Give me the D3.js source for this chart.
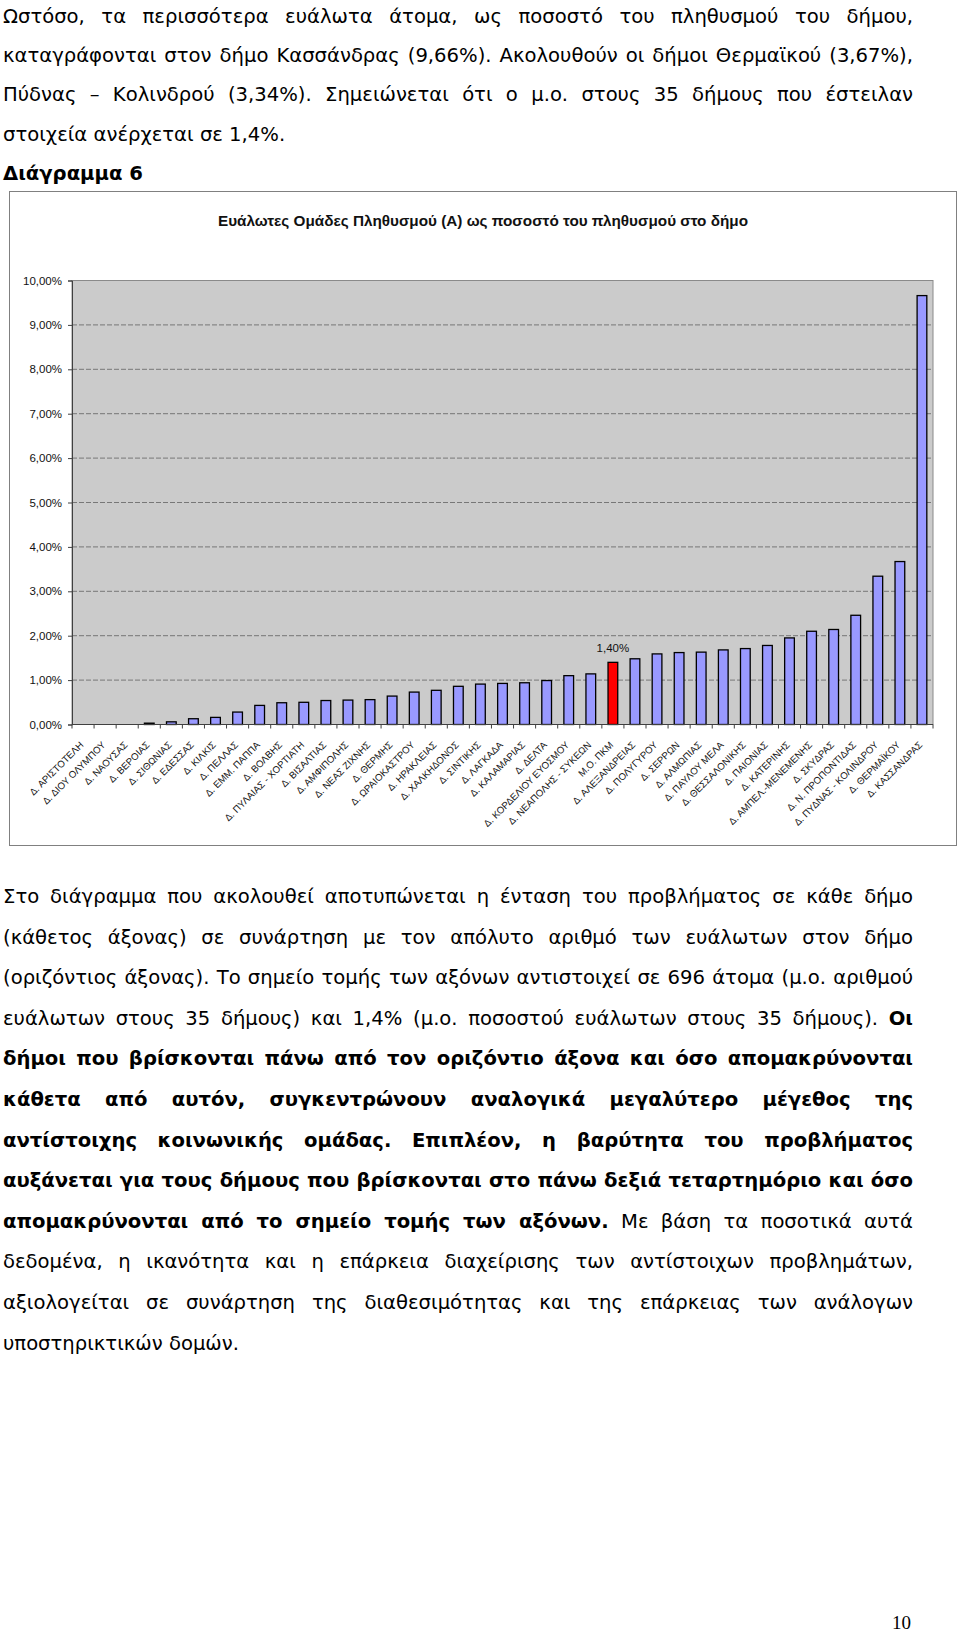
<!DOCTYPE html>
<html>
<head>
<meta charset="utf-8">
<script src="https://cdn.jsdelivr.net/npm/d3@7"></script>
<style>
  html, body { margin: 0; padding: 0; }
  body { width: 960px; height: 1636px; position: relative; background: #fff; overflow: hidden; }
  #chart { position: absolute; left: 0; top: 0; }
  .para { position: absolute; left: 3px; width: 910px; font-family: "DejaVu Sans", sans-serif; font-size: 19.6px; color: #000; }
  #p1 { line-height: 39.2px; }
  #p1 .ln { height: 39.2px; }
  #p2 { line-height: 40.6px; }
  #p2 .ln { height: 40.6px; }
  .ln { white-space: nowrap; text-align: left; }
  .ln.j { text-align: justify; text-align-last: justify; }
  .pg { position: absolute; left: 892px; top: 1612px; font-family: "Liberation Serif", serif; font-size: 19px; }
</style>
</head>
<body>
<svg id="chart" width="960" height="1636"></svg>

<div class="para" id="p1" style="top:-3px">
  <div class="ln" data-j="1"><span>Ωστόσο, τα περισσότερα ευάλωτα άτομα, ως ποσοστό του πληθυσμού του δήμου,</span></div>
  <div class="ln" data-j="1"><span>καταγράφονται στον δήμο Κασσάνδρας (9,66%). Ακολουθούν οι δήμοι Θερμαϊκού (3,67%),</span></div>
  <div class="ln" data-j="1"><span>Πύδνας – Κολινδρού (3,34%). Σημειώνεται ότι ο μ.ο. στους 35 δήμους που έστειλαν</span></div>
  <div class="ln"><span>στοιχεία ανέρχεται σε 1,4%.</span></div>
  <div class="ln"><span><b>Διάγραμμα 6</b></span></div>
</div>

<div class="para" id="p2" style="top:877px">
  <div class="ln" data-j="1"><span>Στο διάγραμμα που ακολουθεί αποτυπώνεται η ένταση του προβλήματος σε κάθε δήμο</span></div>
  <div class="ln" data-j="1"><span>(κάθετος άξονας) σε συνάρτηση με τον απόλυτο αριθμό των ευάλωτων στον δήμο</span></div>
  <div class="ln" data-j="1"><span>(οριζόντιος άξονας). Το σημείο τομής των αξόνων αντιστοιχεί σε 696 άτομα (μ.ο. αριθμού</span></div>
  <div class="ln" data-j="1"><span>ευάλωτων στους 35 δήμους) και 1,4% (μ.ο. ποσοστού ευάλωτων στους 35 δήμους). <b>Οι</b></span></div>
  <div class="ln" data-j="1"><span><b>δήμοι που βρίσκονται πάνω από τον οριζόντιο άξονα και όσο απομακρύνονται</b></span></div>
  <div class="ln" data-j="1"><span><b>κάθετα από αυτόν, συγκεντρώνουν αναλογικά μεγαλύτερο μέγεθος της</b></span></div>
  <div class="ln" data-j="1"><span><b>αντίστοιχης κοινωνικής ομάδας. Επιπλέον, η βαρύτητα του προβλήματος</b></span></div>
  <div class="ln" data-j="1"><span><b>αυξάνεται για τους δήμους που βρίσκονται στο πάνω δεξιά τεταρτημόριο και όσο</b></span></div>
  <div class="ln" data-j="1"><span><b>απομακρύνονται από το σημείο τομής των αξόνων.</b> Με βάση τα ποσοτικά αυτά</span></div>
  <div class="ln" data-j="1"><span>δεδομένα, η ικανότητα και η επάρκεια διαχείρισης των αντίστοιχων προβλημάτων,</span></div>
  <div class="ln" data-j="1"><span>αξιολογείται σε συνάρτηση της διαθεσιμότητας και της επάρκειας των ανάλογων</span></div>
  <div class="ln"><span>υποστηρικτικών δομών.</span></div>
</div>

<div class="pg">10</div>

<script>
// ---------------- DATA ----------------
const categories = [
  "Δ. ΑΡΙΣΤΟΤΕΛΗ", "Δ. ΔΙΟΥ ΟΛΥΜΠΟΥ", "Δ. ΝΑΟΥΣΑΣ", "Δ. ΒΕΡΟΙΑΣ", "Δ. ΣΙΘΩΝΙΑΣ",
  "Δ. ΕΔΕΣΣΑΣ", "Δ. ΚΙΛΚΙΣ", "Δ. ΠΕΛΛΑΣ", "Δ. ΕΜΜ. ΠΑΠΠΑ", "Δ. ΒΟΛΒΗΣ",
  "Δ. ΠΥΛΑΙΑΣ - ΧΟΡΤΙΑΤΗ", "Δ. ΒΙΣΑΛΤΙΑΣ", "Δ. ΑΜΦΙΠΟΛΗΣ", "Δ. ΝΕΑΣ ΖΙΧΝΗΣ", "Δ. ΘΕΡΜΗΣ",
  "Δ. ΩΡΑΙΟΚΑΣΤΡΟΥ", "Δ. ΗΡΑΚΛΕΙΑΣ", "Δ. ΧΑΛΚΗΔΟΝΟΣ", "Δ. ΣΙΝΤΙΚΗΣ", "Δ. ΛΑΓΚΑΔΑ",
  "Δ. ΚΑΛΑΜΑΡΙΑΣ", "Δ. ΔΕΛΤΑ", "Δ. ΚΟΡΔΕΛΙΟΥ ΕΥΟΣΜΟΥ", "Δ. ΝΕΑΠΟΛΗΣ - ΣΥΚΕΩΝ", "Μ.Ο. ΠΚΜ",
  "Δ. ΑΛΕΞΑΝΔΡΕΙΑΣ", "Δ. ΠΟΛΥΓΥΡΟΥ", "Δ. ΣΕΡΡΩΝ", "Δ. ΑΛΜΩΠΙΑΣ", "Δ. ΠΑΥΛΟΥ ΜΕΛΑ",
  "Δ. ΘΕΣΣΑΛΟΝΙΚΗΣ", "Δ. ΠΑΙΟΝΙΑΣ", "Δ. ΚΑΤΕΡΙΝΗΣ", "Δ. ΑΜΠΕΛ.-ΜΕΝΕΜΕΝΗΣ", "Δ. ΣΚΥΔΡΑΣ",
  "Δ. Ν. ΠΡΟΠΟΝΤΙΔΑΣ", "Δ. ΠΥΔΝΑΣ - ΚΟΛΙΝΔΡΟΥ", "Δ. ΘΕΡΜΑΪΚΟΥ", "Δ. ΚΑΣΣΑΝΔΡΑΣ"
];
// percent of municipal population
const values = [
  0, 0, 0, 0.03, 0.06,
  0.13, 0.16, 0.28, 0.43, 0.49,
  0.50, 0.54, 0.55, 0.56, 0.64,
  0.73, 0.77, 0.86, 0.91, 0.925,
  0.94, 0.99, 1.10, 1.14, 1.40,
  1.48, 1.59, 1.62, 1.63, 1.68,
  1.71, 1.78, 1.95, 2.10, 2.14,
  2.46, 3.34, 3.67, 9.66
];
const highlightCategory = "Μ.Ο. ΠΚΜ";
const yTickValues = [0, 1, 2, 3, 4, 5, 6, 7, 8, 9, 10];
const yTickLabels = ["0,00%", "1,00%", "2,00%", "3,00%", "4,00%", "5,00%", "6,00%", "7,00%", "8,00%", "9,00%", "10,00%"];
const chartTitle = "Ευάλωτες Ομάδες Πληθυσμού (Α) ως ποσοστό του πληθυσμού στο δήμο";

// ---------------- CHART ----------------
const svg = d3.select("#chart");
const data = categories.map((c, i) => ({ c, v: values[i] }));

const x = d3.scaleBand().domain(categories).range([72, 933]).paddingInner(0.56).paddingOuter(0.28);
const y = d3.scaleLinear().domain([0, 10]).range([724.5, 280.5]);

// chart box
svg.append("rect").attr("x", 9.5).attr("y", 191.5).attr("width", 947).attr("height", 654)
  .attr("fill", "#fff").attr("stroke", "#808080").attr("stroke-width", 1);

// title
svg.append("text").attr("x", 483).attr("y", 226).attr("text-anchor", "middle")
  .attr("font-family", "Liberation Sans, Arial, sans-serif").attr("font-weight", "bold")
  .attr("font-size", 14).attr("textLength", 530).attr("lengthAdjust", "spacingAndGlyphs")
  .attr("fill", "#111").text(chartTitle);

const [x0, x1] = x.range();
const [yb, yt] = y.range();

// plot area
svg.append("rect").attr("x", x0).attr("y", yt).attr("width", x1 - x0).attr("height", yb - yt)
  .attr("fill", "#cbcbcb").attr("stroke", "#8a8a8a").attr("stroke-width", 1);

// gridlines
svg.append("g").selectAll("line").data(yTickValues.filter(d => d > 0 && d < 10)).join("line")
  .attr("x1", x0).attr("x2", x1).attr("y1", d => y(d)).attr("y2", d => y(d))
  .attr("stroke", "#777").attr("stroke-width", 1).attr("stroke-dasharray", "5,2");

// y axis
const yAxis = d3.axisLeft(y).tickValues(yTickValues).tickSize(4).tickPadding(6)
  .tickFormat((d, i) => yTickLabels[i]);
const gy = svg.append("g").attr("transform", `translate(${x0},0)`).call(yAxis);
gy.select(".domain").attr("stroke", "#404040");
gy.selectAll(".tick line").attr("stroke", "#404040");
gy.selectAll(".tick text").attr("font-family", "Liberation Sans, Arial, sans-serif")
  .attr("font-size", 11.5).attr("fill", "#111");

// bars
svg.append("g").selectAll("rect").data(data.filter(d => d.v > 0)).join("rect")
  .attr("x", d => x(d.c)).attr("y", d => y(d.v))
  .attr("width", x.bandwidth()).attr("height", d => y(0) - y(d.v))
  .attr("fill", d => d.c === highlightCategory ? "#ff0000" : "#9999ff")
  .attr("stroke", "#000").attr("stroke-width", 1.3);

// x axis line + ticks between categories
svg.append("line").attr("x1", x0).attr("x2", x1).attr("y1", y(0)).attr("y2", y(0))
  .attr("stroke", "#404040").attr("stroke-width", 1);
svg.append("g").selectAll("line").data(d3.range(categories.length + 1)).join("line")
  .attr("x1", i => x0 + i * x.step()).attr("x2", i => x0 + i * x.step())
  .attr("y1", y(0)).attr("y2", y(0) + 4)
  .attr("stroke", "#404040").attr("stroke-width", 1);

// x labels
svg.append("g").selectAll("text").data(categories).join("text")
  .attr("transform", c => `translate(${x(c) + x.bandwidth() / 2 + 1},${y(0) + 21}) rotate(-45)`)
  .attr("text-anchor", "end")
  .attr("font-family", "Liberation Sans Narrow, Arial Narrow, sans-serif")
  .attr("font-size", 9.6).attr("fill", "#111").text(c => c);

// data label for highlighted bar
svg.append("g").selectAll("text").data(data.filter(d => d.c === highlightCategory)).join("text")
  .attr("x", d => x(d.c) + x.bandwidth() / 2).attr("y", d => y(d.v) - 10)
  .attr("text-anchor", "middle").attr("font-family", "Liberation Sans, Arial, sans-serif")
  .attr("font-size", 11.5).attr("fill", "#111")
  .text(d => d3.format(".2f")(d.v).replace(".", ",") + "%");

// ---------------- TEXT FITTING ----------------
const T = 909;
document.querySelectorAll(".ln").forEach(d => {
  const s = d.firstElementChild;
  const w = s.getBoundingClientRect().width;
  if (w > T) {
    const n = s.textContent.length;
    d.style.letterSpacing = ((T - w) / n) + "px";
  }
  d.style.whiteSpace = "normal";
  if (d.dataset.j) d.classList.add("j");
});
</script>
</body>
</html>
